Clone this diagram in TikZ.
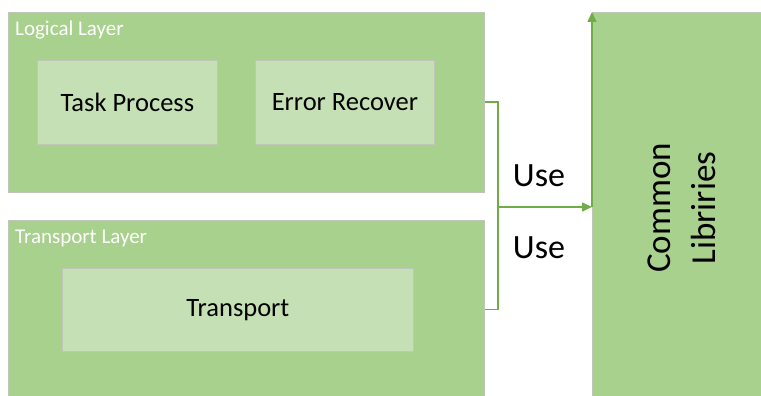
\documentclass[tikz,border=0pt]{standalone}
\usepackage{fontspec}
\setmainfont{Carlito}
\usetikzlibrary{arrows.meta,calc}
\definecolor{outergreen}{HTML}{A9D18E}
\definecolor{innergreen}{HTML}{C5E0B4}
\definecolor{linegreen}{HTML}{70AD47}
\definecolor{edgegray}{HTML}{BFC7B8}
\tikzset{
  layerbox/.style={fill=outergreen, draw=edgegray, line width=0.6pt, anchor=north west, inner sep=0pt},
  innerbox/.style={fill=innergreen, draw=edgegray, line width=0.8pt, anchor=north west, inner sep=0pt},
  layerlabel/.style={anchor=north west, inner sep=0pt, text=white, font=\fontsize{21}{24}\selectfont},
  boxtext/.style={font=\fontsize{26.5}{30}\selectfont, text=black},
  usetext/.style={font=\fontsize{34}{40}\selectfont, text=black, inner sep=0pt},
  conn/.style={draw=linegreen, line width=1.6pt},
  tip/.style={-{Triangle[length=10pt,width=9pt]}}
}
\begin{document}
\begin{tikzpicture}[x=1pt,y=-1pt]
\useasboundingbox[fill=white] (0,0) rectangle (761,396);
% layers
\node[layerbox, minimum width=476pt, minimum height=180pt] (logical) at (8,12) {};
\node[layerbox, minimum width=476pt, minimum height=178pt] (transl) at (8,220) {};
\node[layerbox, minimum width=171pt, minimum height=386pt] (common) at (592,12) {};
% layer labels
\node[layerlabel] (lgl) at (15,21) {Logical Layer};
\node[layerlabel] (tll) at (15,230) {Transport Layer};
% inner boxes
\node[innerbox, minimum width=180pt, minimum height=84pt] (task) at (37,60) {};
\node[boxtext] (tasktext) at (task.center) {Task Process};
\node[innerbox, minimum width=179pt, minimum height=84pt] (error) at (255,60) {};
\node[boxtext] (errortext) at (error.center) {Error Recover};
\node[innerbox, minimum width=351pt, minimum height=83pt] (transport) at (62,268) {};
\node[boxtext] (transporttext) at (transport.center) {Transport};
% common libraries text
\node[rotate=90, align=center, font=\fontsize{35}{45}\selectfont, text=black] (commontext) at (682,208) {Common\\Libriries};
% connectors
\coordinate (junction) at (498,207);
\coordinate (target) at (common.west |- junction);
\draw[conn] (logical.east) -| (junction);
\draw[conn] (transl.east) -| (junction);
\draw[conn, tip] (junction) -- (target);
\draw[conn, tip] (target) -- (common.north west);
% labels
\node[usetext] (use1) at (539,176) {Use};
\node[usetext] (use2) at (539,248) {Use};
\end{tikzpicture}
\end{document}
